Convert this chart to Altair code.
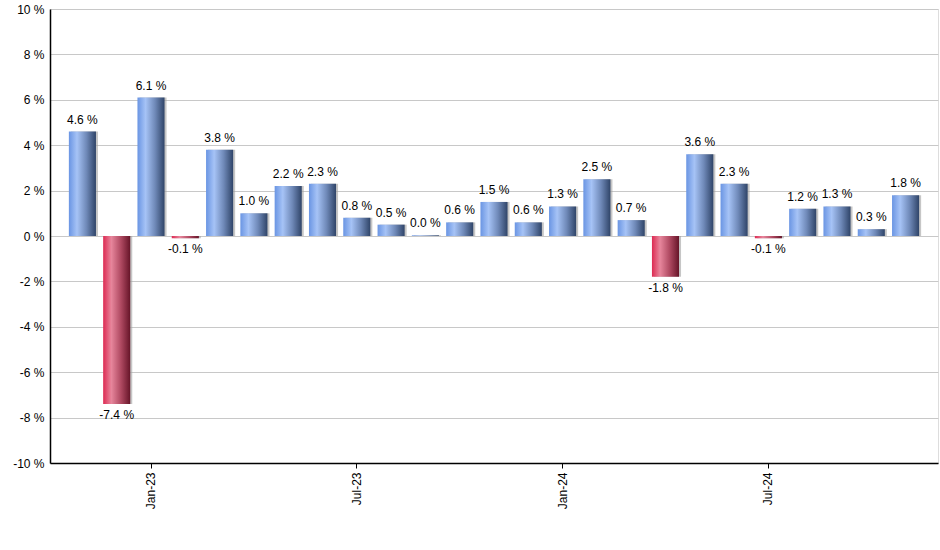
import altair as alt
import pandas as pd

months = ["Nov-22", "Dec-22", "Jan-23", "Feb-23", "Mar-23", "Apr-23", "May-23", "Jun-23",
          "Jul-23", "Aug-23", "Sep-23", "Oct-23", "Nov-23", "Dec-23", "Jan-24", "Feb-24",
          "Mar-24", "Apr-24", "May-24", "Jun-24", "Jul-24", "Aug-24", "Sep-24", "Oct-24", "Nov-24"]
values = [4.6, -7.4, 6.1, -0.1, 3.8, 1.0, 2.2, 2.3, 0.8, 0.5, 0.03, 0.6, 1.5, 0.6, 1.3, 2.5,
          0.7, -1.8, 3.6, 2.3, -0.1, 1.2, 1.3, 0.3, 1.8]
tick_months = ["Jan-23", "Jul-23", "Jan-24", "Jul-24"]
y_ticks = [-10, -8, -6, -4, -2, 0, 2, 4, 6, 8, 10]

df = pd.DataFrame({"month": months, "v": values})

FONT = "Liberation Sans"

x = alt.X("month:N", sort=months,
          scale=alt.Scale(domain=months, paddingInner=0.21, paddingOuter=0.55),
          axis=alt.Axis(title=None, values=tick_months, labelAngle=270, labelFontSize=12,
                        labelFont=FONT, labelColor="#000", domainColor="#000", domainWidth=1.5,
                        tickColor="#000", tickSize=5, labelPadding=4, grid=False))
y = alt.Y("v:Q", scale=alt.Scale(domain=[-10, 10], nice=False),
          axis=alt.Axis(title=None, values=y_ticks, labelExpr="datum.value + ' %'",
                        labelFontSize=12, labelFont=FONT, labelColor="#000",
                        domainColor="#000", domainWidth=1.5, ticks=False, labelPadding=6,
                        gridColor="#c8c8c8", gridWidth=1))

blue = alt.Gradient(gradient="linear", x1=0, x2=1, y1=0, y2=0,
                    stops=[alt.GradientStop(color="#6a95e3", offset=0),
                           alt.GradientStop(color="#a6c3f6", offset=0.3),
                           alt.GradientStop(color="#6f89b8", offset=0.65),
                           alt.GradientStop(color="#2f4468", offset=1)])
red = alt.Gradient(gradient="linear", x1=0, x2=1, y1=0, y2=0,
                   stops=[alt.GradientStop(color="#dd2a52", offset=0),
                          alt.GradientStop(color="#e7869c", offset=0.3),
                          alt.GradientStop(color="#b04a62", offset=0.65),
                          alt.GradientStop(color="#661428", offset=1)])

base = alt.Chart(df)

shadow = base.mark_bar(color="#a0a0a0", opacity=0.6).encode(
    x=x, y=y, y2=alt.datum(0), xOffset=alt.value(2))

pos = base.transform_filter("datum.v >= 0").mark_bar(color=blue).encode(
    x=x, y=y, y2=alt.datum(0))
neg = base.transform_filter("datum.v < 0").mark_bar(color=red).encode(
    x=x, y=y, y2=alt.datum(0))

lab = base.transform_calculate(
    lbl="replace(format(datum.v, '.1f'), '\u2212', '-') + ' %'")
pos_t = lab.transform_filter("datum.v >= 0").mark_text(
    baseline="bottom", dy=-5, fontSize=12, font=FONT, color="#000").encode(
    x=x, y=y, text="lbl:N")
neg_t = lab.transform_filter("datum.v < 0").mark_text(
    baseline="top", dy=6, fontSize=12, font=FONT, color="#000").encode(
    x=x, y=y, text="lbl:N")

chart = alt.layer(shadow, pos, neg, pos_t, neg_t).properties(
    width=888, height=454,
    autosize=alt.AutoSizeParams(type="none"),
    padding={"left": 50, "top": 9, "right": 2, "bottom": 87},
).configure_view(stroke=None).configure(background="white")

chart.save("out.html", embed_options={"renderer": "svg", "actions": False})
